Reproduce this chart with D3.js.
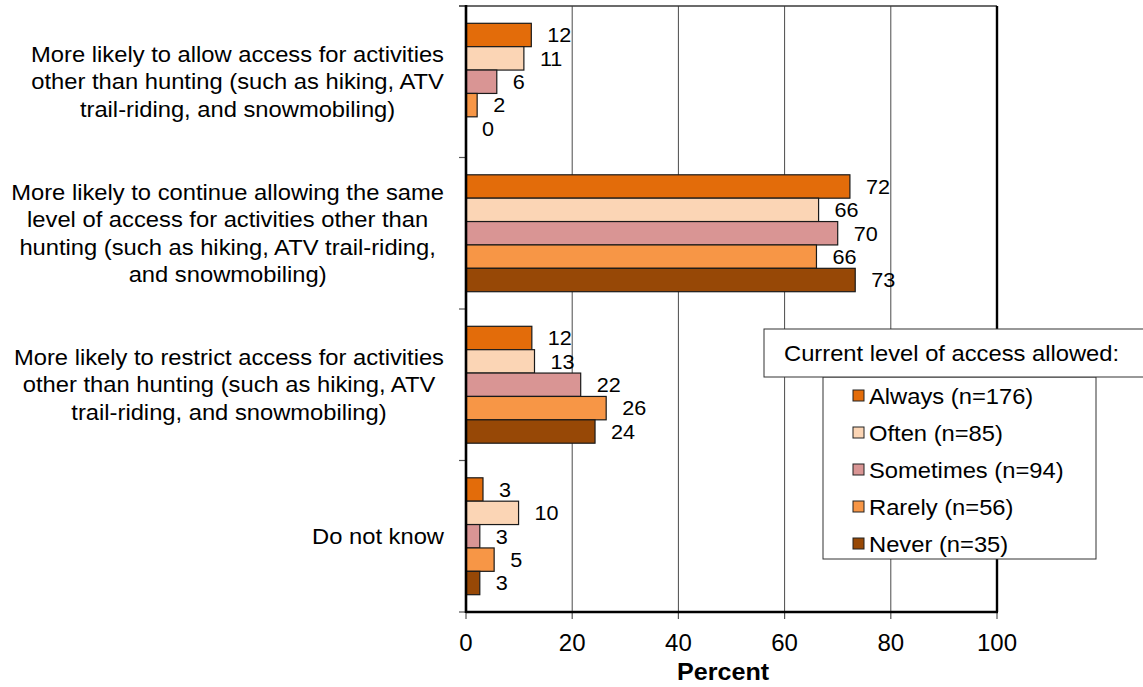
<!DOCTYPE html>
<html><head><meta charset="utf-8">
<script src="https://cdn.jsdelivr.net/npm/d3@7"></script>
<style>
body{margin:0;background:#fff}
svg{display:block}
text{font-family:"Liberation Sans",Arial,sans-serif;fill:#000}
</style>
</head><body>
<svg id="chart" width="1143" height="687"></svg>
<script>
// ---- data ----
const categories = ["allow", "continue", "restrict", "dontknow"];
const categoryLines = [
  ["More likely to allow access for activities", "other than hunting (such as hiking, ATV", "trail-riding, and snowmobiling)"],
  ["More likely to continue allowing the same", "level of access for activities other than", "hunting (such as hiking, ATV trail-riding,", "and snowmobiling)"],
  ["More likely to restrict access for activities", "other than hunting (such as hiking, ATV", "trail-riding, and snowmobiling)"],
  ["Do not know"]
];
const seriesNames = ["Always (n=176)", "Often (n=85)", "Sometimes (n=94)", "Rarely (n=56)", "Never (n=35)"];
const seriesColors = ["#E36C0A", "#FBD5B5", "#D99594", "#F79646", "#974806"];
const always    = [12.3, 72.3, 12.4, 3.2];
const often     = [10.9, 66.4, 12.9, 9.9];
const sometimes = [5.8, 70.0, 21.6, 2.6];
const rarely    = [2.1, 66.0, 26.4, 5.3];
const never     = [0.0, 73.3, 24.3, 2.6];
const tickValues = [0, 20, 40, 60, 80, 100];
const axisTitle = "Percent";
const legendTitle = "Current level of access allowed:";

const seriesValues = [always, often, sometimes, rarely, never];

// ---- layout ----
const svg = d3.select("#chart");
const X0 = 466, X1 = 997, YT = 6, YB = 612;
const x = d3.scaleLinear().domain([0, 100]).range([X0, X1]);
const y0 = d3.scaleBand().domain(categories).range([YT, YB]).padding(0);
const y1 = d3.scaleBand().domain(seriesNames).range([0, y0.bandwidth()]).paddingInner(0).paddingOuter(0.74);
const SX = 1.08;

function addText(g, px, py, s, size, anchor, sx, weight) {
  return g.append("text")
    .attr("transform", `translate(${px},${py}) scale(${sx},1)`)
    .attr("dy", "0.35em")
    .attr("text-anchor", anchor)
    .attr("font-size", size)
    .attr("font-weight", weight || "normal")
    .text(s);
}

// gridlines
svg.append("g").selectAll("line").data(tickValues.filter(v => v > 0 && v < 100)).join("line")
  .attr("x1", d => x(d)).attr("x2", d => x(d)).attr("y1", YT).attr("y2", YB)
  .attr("stroke", "#4a4a4a").attr("stroke-width", 1);

// bars
const rows = [];
categories.forEach((c, ci) => seriesNames.forEach((s, si) => rows.push({c, s, si, v: seriesValues[si][ci]})));
const gb = svg.append("g");
gb.selectAll("rect").data(rows.filter(d => d.v > 0)).join("rect")
  .attr("x", x(0))
  .attr("y", d => y0(d.c) + y1(d.s))
  .attr("width", d => x(d.v) - x(0))
  .attr("height", y1.bandwidth())
  .attr("fill", d => seriesColors[d.si])
  .attr("stroke", "#1a1a1a").attr("stroke-width", 1.2);

// value labels
const gl = svg.append("g");
rows.forEach(d => {
  addText(gl, x(d.v) + 16, y0(d.c) + y1(d.s) + y1.bandwidth() / 2, String(Math.round(d.v)), 21, "start", 1.03);
});

// frame / axes
const ga = svg.append("g");
ga.append("line").attr("x1", X0 - 7).attr("x2", X1).attr("y1", YT).attr("y2", YT).attr("stroke", "#3a3a3a").attr("stroke-width", 1.6);
const bounds = categories.map(c => y0(c)).concat([YB]);
ga.selectAll("line.lt").data(bounds).join("line").attr("class", "lt")
  .attr("x1", X0 - 7).attr("x2", X0).attr("y1", d => d).attr("y2", d => d)
  .attr("stroke", "#555").attr("stroke-width", 1.2);
ga.selectAll("line.bt").data(tickValues).join("line").attr("class", "bt")
  .attr("x1", d => x(d)).attr("x2", d => x(d)).attr("y1", YB).attr("y2", YB + 7)
  .attr("stroke", "#555").attr("stroke-width", 1.2);
ga.append("line").attr("x1", X1).attr("x2", X1).attr("y1", YT).attr("y2", YB).attr("stroke", "#000").attr("stroke-width", 2.4);
ga.append("line").attr("x1", X0).attr("x2", X0).attr("y1", YT - 1).attr("y2", YB + 1).attr("stroke", "#000").attr("stroke-width", 2.6);
ga.append("line").attr("x1", X0).attr("x2", X1 + 1).attr("y1", YB).attr("y2", YB).attr("stroke", "#000").attr("stroke-width", 2.6);

// tick labels
const gt = svg.append("g");
tickValues.forEach(v => addText(gt, x(v), 643, String(v), 24, "middle", 1.0));
addText(gt, 723, 672, axisTitle, 23.5, "middle", 1.07, "bold");

// category labels
const gc = svg.append("g");
categories.forEach((c, ci) => {
  const lines = categoryLines[ci];
  const cy = y0(c) + y0.bandwidth() / 2;
  const lh = 27.5;
  const texts = lines.map((s, li) => addText(gc, 0, cy + (li - (lines.length - 1) / 2) * lh, s, 22, "middle", SX));
  const W = d3.max(texts, t => t.node().getComputedTextLength() * SX);
  const cx = 444 - W / 2;
  texts.forEach((t, li) => t.attr("transform", `translate(${cx},${cy + (li - (lines.length - 1) / 2) * lh}) scale(${SX},1)`));
});

// legend
const gleg = svg.append("g");
gleg.append("rect").attr("x", 823).attr("y", 377).attr("width", 273).attr("height", 182)
  .attr("fill", "#fff").attr("stroke", "#333").attr("stroke-width", 1);
gleg.append("rect").attr("x", 764).attr("y", 329).attr("width", 400).attr("height", 48)
  .attr("fill", "#fff").attr("stroke", "#333").attr("stroke-width", 1);
addText(gleg, 784, 353, legendTitle, 22, "start", SX);
seriesNames.forEach((s, i) => {
  const iy = 396 + i * 37;
  gleg.append("rect").attr("x", 853).attr("y", iy - 6).attr("width", 11).attr("height", 11)
    .attr("fill", seriesColors[i]).attr("stroke", "#222").attr("stroke-width", 1);
  addText(gleg, 869, iy, s, 22, "start", SX);
});
</script>
</body></html>
